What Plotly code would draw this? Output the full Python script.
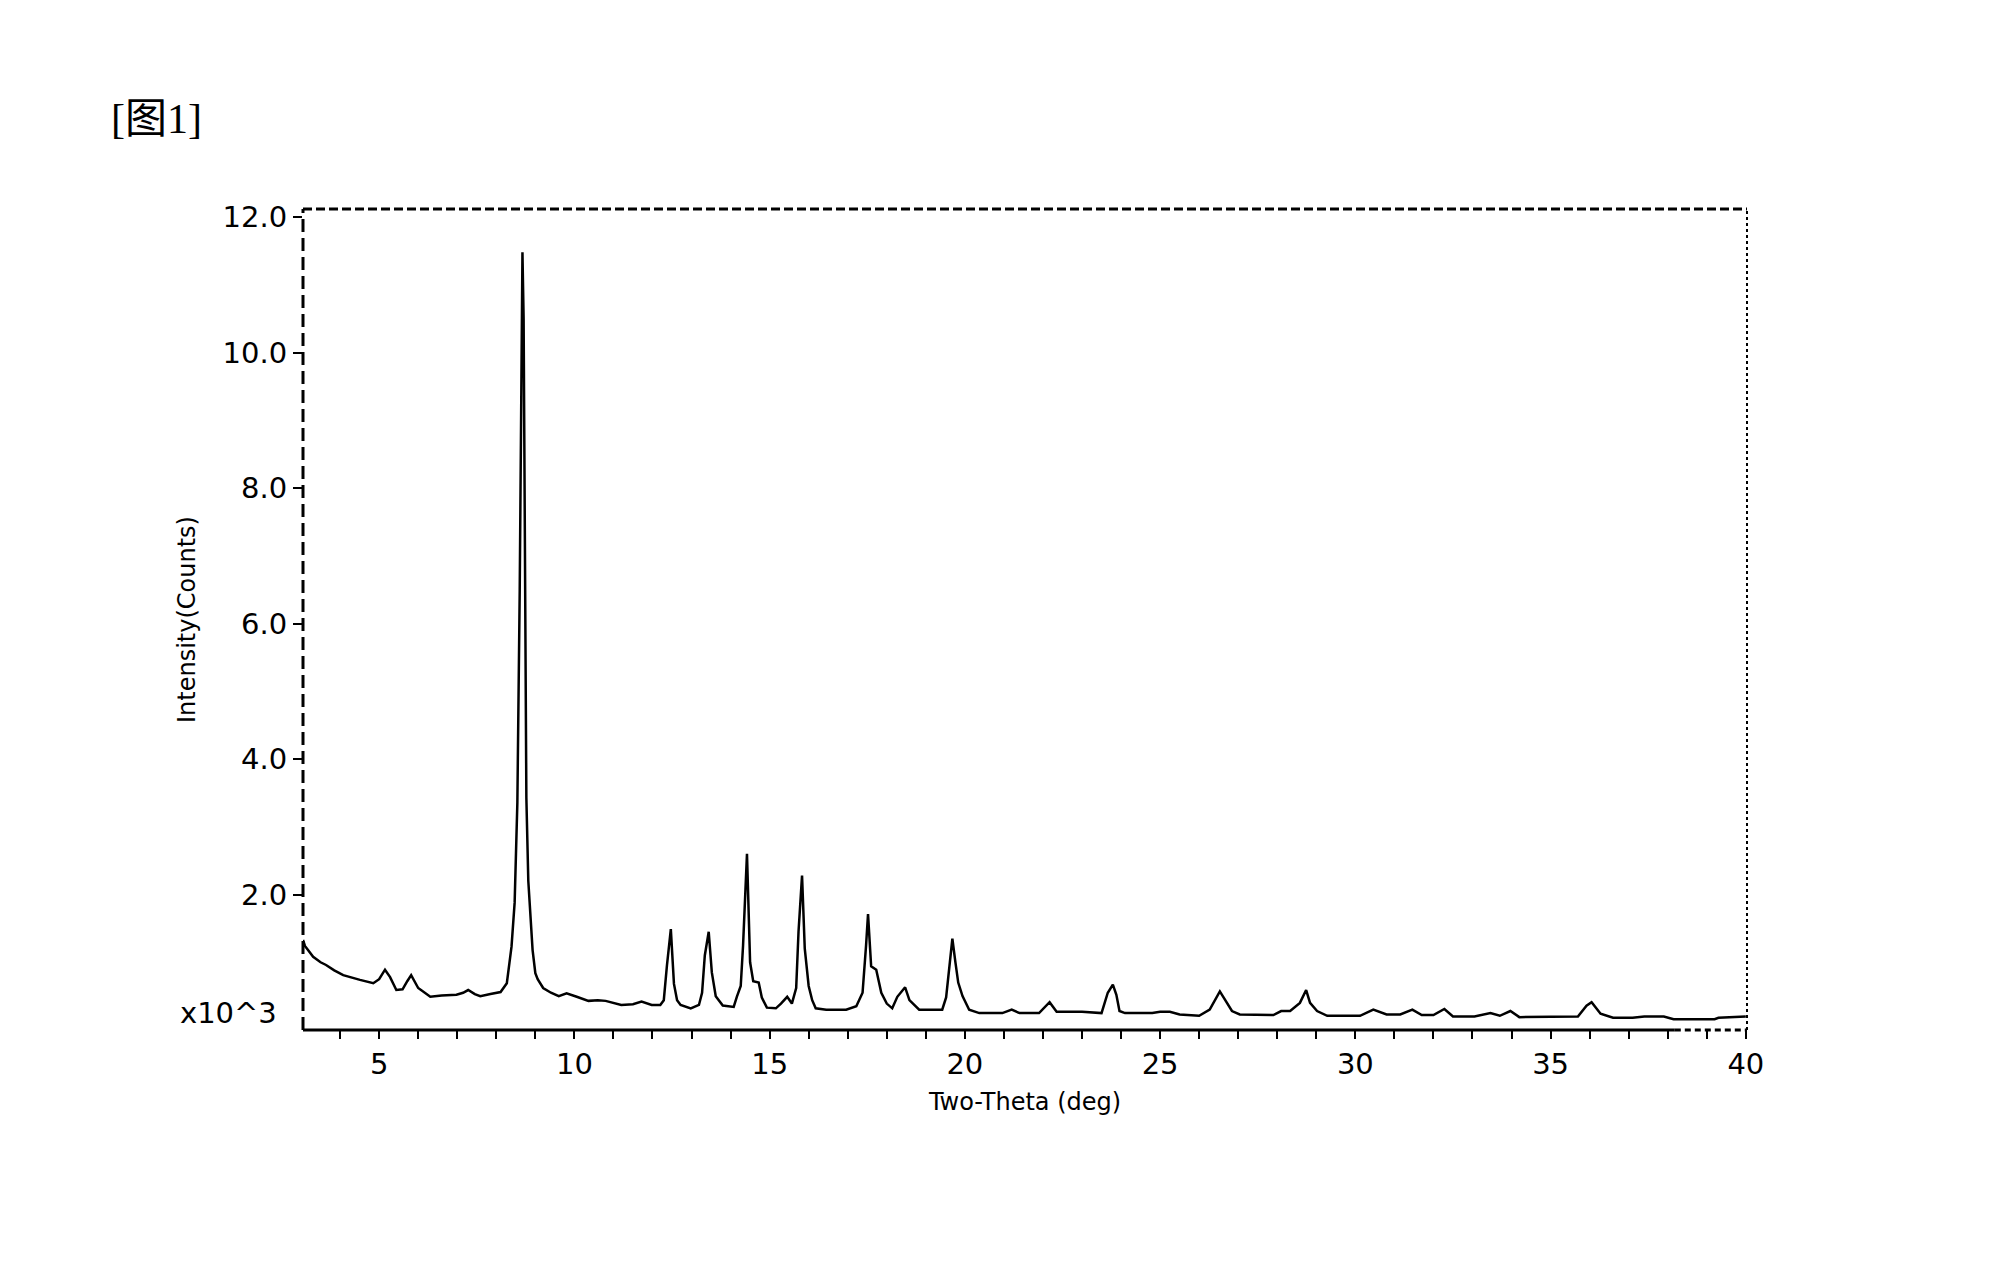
import plotly.graph_objects as go

# --- data (two-theta in degrees, intensity in thousands of counts) ---
two_theta = [3.05, 3.10, 3.31, 3.50, 3.64, 3.85, 4.08, 4.30, 4.51, 4.85, 5.00, 5.15, 5.28, 5.44,
             5.60, 5.72, 5.82, 6.00, 6.31, 6.60, 6.98, 7.15, 7.28, 7.45, 7.59, 7.85, 8.11, 8.27,
             8.39, 8.47, 8.54, 8.60, 8.64, 8.67, 8.70, 8.74, 8.77, 8.82, 8.88, 8.93, 9.00, 9.06,
             9.20, 9.40, 9.60, 9.80, 10.06, 10.36, 10.60, 10.80, 11.20, 11.50, 11.72, 11.98,
             12.20, 12.29, 12.37, 12.47, 12.55, 12.63, 12.72, 12.98, 13.19, 13.27, 13.34, 13.44,
             13.52, 13.62, 13.80, 14.08, 14.16, 14.26, 14.32, 14.42, 14.50, 14.58, 14.72, 14.80,
             14.93, 15.16, 15.29, 15.45, 15.57, 15.68, 15.74, 15.83, 15.90, 16.00, 16.09, 16.18,
             16.45, 16.96, 17.22, 17.38, 17.47, 17.52, 17.60, 17.73, 17.86, 18.00, 18.14, 18.27,
             18.47, 18.58, 18.83, 19.42, 19.52, 19.60, 19.68, 19.76, 19.83, 19.94, 20.11, 20.37,
             20.96, 21.20, 21.40, 21.90, 22.17, 22.35, 23.00, 23.50, 23.66, 23.79, 23.88, 23.96,
             24.10, 24.80, 25.00, 25.25, 25.50, 26.00, 26.27, 26.53, 26.66, 26.84, 27.04, 27.38,
             27.90, 28.10, 28.33, 28.58, 28.74, 28.84, 29.02, 29.28, 30.12, 30.46, 30.80, 31.15,
             31.46, 31.70, 32.00, 32.28, 32.50, 33.05, 33.46, 33.70, 33.97, 34.20, 35.70, 35.92,
             36.05, 36.28, 36.60, 37.10, 37.40, 37.90, 38.15, 39.20, 39.30, 40.00]
intensity = [1.33, 1.24, 1.08, 1.00, 0.96, 0.88, 0.81, 0.77, 0.74, 0.69, 0.75, 0.89, 0.78, 0.59,
             0.60, 0.72, 0.81, 0.62, 0.49, 0.51, 0.52, 0.55, 0.59, 0.53, 0.50, 0.53, 0.56, 0.69,
             1.23, 1.88, 3.36, 6.50, 10.0, 11.48, 10.5, 6.8, 3.43, 2.20, 1.60, 1.18, 0.84, 0.75,
             0.62, 0.55, 0.50, 0.54, 0.49, 0.43, 0.44, 0.43, 0.37, 0.38, 0.42, 0.37,
             0.37, 0.44, 0.95, 1.49, 0.68, 0.44, 0.37, 0.32, 0.37, 0.55, 1.10, 1.45,
             0.85, 0.50, 0.36, 0.34, 0.49, 0.65, 1.25, 2.60, 1.00, 0.72, 0.70, 0.48,
             0.33, 0.32, 0.39, 0.49, 0.39, 0.62, 1.45, 2.28, 1.20, 0.65, 0.44, 0.32,
             0.30, 0.30, 0.35, 0.55, 1.25, 1.71, 0.94, 0.89, 0.55, 0.39, 0.32, 0.49,
             0.63, 0.44, 0.30, 0.30, 0.48, 0.95, 1.35, 0.99, 0.70, 0.50, 0.30, 0.25,
             0.25, 0.30, 0.25, 0.25, 0.41, 0.27, 0.27, 0.25, 0.55, 0.67, 0.52, 0.28,
             0.25, 0.25, 0.27, 0.27, 0.23, 0.21, 0.30, 0.57, 0.45, 0.28, 0.23, 0.23,
             0.22, 0.28, 0.28, 0.40, 0.59, 0.40, 0.28, 0.21, 0.21, 0.30, 0.23, 0.23,
             0.30, 0.22, 0.22, 0.31, 0.20, 0.20, 0.25, 0.21, 0.28, 0.19, 0.20, 0.36,
             0.41, 0.24, 0.18, 0.18, 0.20, 0.20, 0.16, 0.16, 0.18, 0.20]

y_tick_vals = [2, 4, 6, 8, 10, 12]
y_tick_text = ["2.0", "4.0", "6.0", "8.0", "10.0", "12.0"]
x_tick_vals = [5, 10, 15, 20, 25, 30, 35, 40]
x_tick_text = ["5", "10", "15", "20", "25", "30", "35", "40"]

tick_font = dict(family="DejaVu Sans", size=29, color="black")
title_font = dict(family="DejaVu Sans", size=24, color="black")

fig = go.Figure()
fig.add_trace(go.Scatter(x=two_theta, y=intensity, mode="lines",
                         line=dict(color="black", width=2.5), showlegend=False))

fig.update_layout(
    width=2011, height=1261,
    margin=dict(l=303, r=264, t=209, b=231),
    paper_bgcolor="white", plot_bgcolor="white",
    xaxis=dict(range=[3.05, 40.03], showgrid=False, zeroline=False, showline=False,
               tickmode="array", tickvals=x_tick_vals, ticktext=x_tick_text,
               ticks="outside", ticklen=8, tickwidth=2, tickcolor="black",
               minor=dict(dtick=1, tick0=0, ticks="outside", ticklen=8, tickwidth=2,
                          tickcolor="black", showgrid=False),
               tickfont=tick_font,
               title=dict(text="Two-Theta (deg)", font=title_font, standoff=13)),
    yaxis=dict(range=[0, 12.12], showgrid=False, zeroline=False, showline=False,
               tickmode="array", tickvals=y_tick_vals, ticktext=y_tick_text,
               ticks="outside", ticklen=9, tickwidth=2, tickcolor="black",
               tickfont=tick_font,
               title=dict(text="Intensity(Counts)", font=title_font, standoff=20)),
)

# frame
fig.add_shape(type="line", xref="paper", yref="paper", x0=0, x1=0, y0=0, y1=1,
              line=dict(color="black", width=3, dash="13px,6px"))
fig.add_shape(type="line", xref="paper", yref="paper", x0=0, x1=1, y0=1, y1=1,
              line=dict(color="black", width=3, dash="9px,4px"))
fig.add_shape(type="line", xref="paper", yref="paper", x0=1, x1=1, y0=0, y1=1,
              line=dict(color="black", width=2, dash="3px,3px"))
fig.add_shape(type="line", xref="paper", yref="paper", x0=0, x1=0.95, y0=0, y1=0,
              line=dict(color="black", width=3))
fig.add_shape(type="line", xref="paper", yref="paper", x0=0.95, x1=1, y0=0, y1=0,
              line=dict(color="black", width=3, dash="6px,4px"))

# multiplier label at the bottom of the y axis
fig.add_annotation(text="x10^3", xref="paper", yref="y", x=0, y=0, xanchor="right",
                   yanchor="middle", xshift=-24, yshift=17, showarrow=False, font=tick_font)

# figure label
fig.add_annotation(text="[图1]", xref="paper", yref="paper", x=-303/1444, y=1 + 90/822,
                   xanchor="left", yanchor="middle", xshift=109, showarrow=False,
                   font=dict(family="Liberation Serif, Noto Sans CJK SC", size=42, color="black"))

fig.write_html("out.html")
